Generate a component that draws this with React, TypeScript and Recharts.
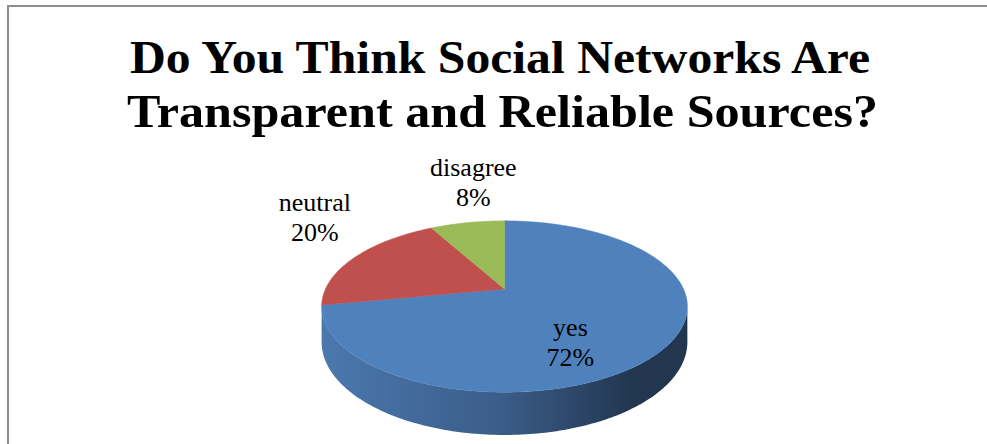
import React from "react";
import { Pie, PieChart } from "recharts";

const categories = ["yes", "neutral", "disagree"];
const shares = [72, 20, 8];
const titleLines = ["Do You Think Social Networks Are", "Transparent and Reliable Sources?"];

const topColors = ["#4F81BD", "#C0504D", "#9BBB59"];
const wallColors = [
    ["#4B78AE", "#3A5C88", "#22364F"],
    ["#A8433F", "#8E3835", "#6E2A28"],
    ["#86A24C", "#72893F", "#5A6D32"],
];

const data = categories.map((name, i) => ({ name, value: shares[i] }));

// fake 3D: flattened, perspective-tilted disk with a side wall
const TILT = 0.4586;
const PERSP = 0.2047;
const DEPTH = 34;
// the side wall only faces the viewer between these angles
const WALL_FROM = -180 + (Math.asin(PERSP) * 180) / Math.PI;
const WALL_TO = -(Math.asin(PERSP) * 180) / Math.PI;

function project(cx: number, cy: number, r: number, deg: number, f = 1) {
    const a = (deg * Math.PI) / 180;
    const u = Math.cos(a) * f;
    const v = Math.sin(a) * f;
    const d = 1 + PERSP * v;
    return { x: cx + (r * u) / d, y: cy - (r * TILT * v) / d, d };
}

function arcPoints(cx: number, cy: number, r: number, start: number, end: number) {
    const n = Math.max(2, Math.ceil(Math.abs(end - start)) + 1);
    const pts = [];
    for (let i = 0; i < n; i++) {
        pts.push(project(cx, cy, r, start + ((end - start) * i) / (n - 1)));
    }
    return pts;
}

const renderWall = (props: any) => {
    const { cx, cy, outerRadius, startAngle, endAngle, index } = props;
    const lo = Math.min(startAngle, endAngle);
    const hi = Math.max(startAngle, endAngle);
    const parts: [number, number][] = [];
    for (let k = -2; k <= 1; k++) {
        const a = Math.max(lo, WALL_FROM + 360 * k);
        const b = Math.min(hi, WALL_TO + 360 * k);
        if (b > a) parts.push([a, b]);
    }
    const id = `wall-${index}`;
    const c = wallColors[index];
    return (
        <g key={id}>
            <defs>
                <linearGradient id={id} gradientUnits="userSpaceOnUse" x1={cx - outerRadius * 1.02} y1={0} x2={cx + outerRadius * 1.02} y2={0}>
                    <stop offset="0%" stopColor={c[0]} />
                    <stop offset="50%" stopColor={c[1]} />
                    <stop offset="85%" stopColor={c[2]} />
                    <stop offset="100%" stopColor={c[2]} />
                </linearGradient>
            </defs>
            {parts.map(([a, b], j) => {
                const top = arcPoints(cx, cy, outerRadius, a, b);
                const bottom = top.map((p) => ({ x: p.x, y: p.y + DEPTH / p.d })).reverse();
                const d =
                    "M" + top.map((p) => `${p.x},${p.y}`).join(" L") +
                    " L" + bottom.map((p) => `${p.x},${p.y}`).join(" L") + " Z";
                return <path key={j} d={d} fill={`url(#${id})`} stroke="none" />;
            })}
        </g>
    );
};

const renderTop = (props: any) => {
    const { cx, cy, outerRadius, startAngle, endAngle, index } = props;
    const pts = arcPoints(cx, cy, outerRadius, startAngle, endAngle);
    const d = `M${cx},${cy} L` + pts.map((p) => `${p.x},${p.y}`).join(" L") + " Z";
    return <path key={`top-${index}`} d={d} fill={topColors[index]} stroke={topColors[index]} strokeWidth={0.5} />;
};

const renderText = (props: any) => {
    const { cx, cy, outerRadius, midAngle, percent, name, index } = props;
    const a = (midAngle * Math.PI) / 180;
    const dx = Math.cos(a);
    const dy = -Math.sin(a);
    let lx: number;
    let ly: number;
    if (percent > 0.5) {
        const p = project(cx, cy, outerRadius, midAngle, 0.45);
        lx = p.x;
        ly = p.y + DEPTH * 0.85;
    } else {
        const rim = project(cx, cy, outerRadius, midAngle);
        if (dy < -0.8) {
            lx = rim.x + 6;
            ly = rim.y - 40;
        } else {
            lx = rim.x + dx * 45;
            ly = rim.y + dy * 45 - 20;
        }
    }
    return (
        <text key={`lbl-${index}`} x={lx} y={ly} textAnchor="middle" fontFamily="'Liberation Serif', serif" fontSize={26} fill="#000">
            <tspan x={lx} y={ly - 7}>{name}</tspan>
            <tspan x={lx} y={ly + 23}>{`${Math.round(percent * 100)}%`}</tspan>
        </text>
    );
};

export default function App() {
    const pieProps = {
        data,
        dataKey: "value",
        nameKey: "name",
        cx: 504.5,
        cy: 289,
        outerRadius: 179,
        startAngle: 90,
        endAngle: -270,
        fill: "none",
        stroke: "none",
        labelLine: false,
        isAnimationActive: false,
    };
    return (
        <div style={{ position: "relative", width: 987, height: 444, background: "#fff", overflow: "hidden" }}>
            <style>{`body{margin:0}`}</style>
            <div
                style={{
                    position: "absolute",
                    left: 7,
                    top: 5,
                    width: 1200,
                    height: 800,
                    borderTop: "2px solid #8d8d8d",
                    borderLeft: "2px solid #8d8d8d",
                }}
            />
            <svg width={987} height={150} style={{ position: "absolute", left: 0, top: 0 }}>
                <text x={500} y={73} textAnchor="middle" fontFamily="'Liberation Serif', serif" fontWeight="bold" fontSize={46} textLength={740} lengthAdjust="spacingAndGlyphs" fill="#000">
                    {titleLines[0]}
                </text>
                <text x={502.5} y={127} textAnchor="middle" fontFamily="'Liberation Serif', serif" fontWeight="bold" fontSize={46} textLength={751} lengthAdjust="spacingAndGlyphs" fill="#000">
                    {titleLines[1]}
                </text>
            </svg>
            <div style={{ position: "absolute", left: 0, top: 0 }}>
                <PieChart width={987} height={444} margin={{ top: 0, right: 0, bottom: 0, left: 0 }}>
                    <Pie {...pieProps} label={renderWall} />
                    <Pie {...pieProps} label={renderTop} />
                    <Pie {...pieProps} label={renderText} />
                </PieChart>
            </div>
        </div>
    );
}
